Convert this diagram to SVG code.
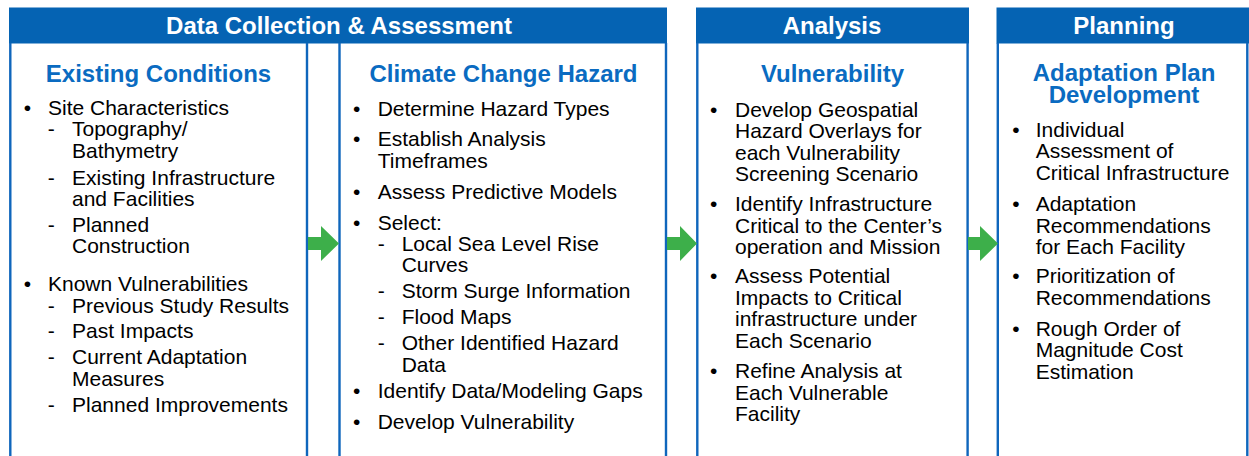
<svg xmlns="http://www.w3.org/2000/svg" width="1249" height="456" viewBox="0 0 1249 456">
<style>
  .hdr { fill: #0563B3; }
  .hdrt { font-family: "Liberation Sans", Arial, sans-serif; font-size: 24px; font-weight: bold; fill: #FFFFFF; text-anchor: middle; }
  .ttl { font-family: "Liberation Sans", Arial, sans-serif; font-size: 24px; font-weight: bold; fill: #0A6BC1; text-anchor: middle; }
  .edge { stroke: #0F66BC; stroke-width: 2.4; fill: none; }
  .t { font-family: "Liberation Sans", Arial, sans-serif; font-size: 21px; fill: #000000; }
  .m { font-family: "Liberation Sans", Arial, sans-serif; font-size: 21px; fill: #000000; text-anchor: middle; }
  .arrow { fill: #3DAF4A; }
</style>
<rect width="1249" height="456" fill="#FFFFFF"/>

<g id="stage-data-collection">
  <rect class="hdr" x="9" y="7.5" width="658" height="36"/>
  <text class="hdrt" x="339" y="34.3">Data Collection &amp; Assessment</text>
</g>

<g id="existing-conditions">
  <path class="edge" d="M10.3 43 V460 M307 43 V460"/>
  <text class="ttl" x="158.5" y="82">Existing Conditions</text>
  <text class="m" x="27.5" y="115">•</text><text class="t" x="48" y="115">Site Characteristics</text>
  <text class="m" x="51.3" y="136">-</text><text class="t" x="72" y="136">Topography/</text>
  <text class="t" x="72" y="158">Bathymetry</text>
  <text class="m" x="51.3" y="185">-</text><text class="t" x="72" y="185">Existing Infrastructure</text>
  <text class="t" x="72" y="206">and Facilities</text>
  <text class="m" x="51.3" y="232">-</text><text class="t" x="72" y="232">Planned</text>
  <text class="t" x="72" y="253">Construction</text>
  <text class="m" x="27.5" y="291">•</text><text class="t" x="48" y="291">Known Vulnerabilities</text>
  <text class="m" x="51.3" y="313">-</text><text class="t" x="72" y="313">Previous Study Results</text>
  <text class="m" x="51.3" y="338">-</text><text class="t" x="72" y="338">Past Impacts</text>
  <text class="m" x="51.3" y="364">-</text><text class="t" x="72" y="364">Current Adaptation</text>
  <text class="t" x="72" y="386">Measures</text>
  <text class="m" x="51.3" y="412">-</text><text class="t" x="72" y="412">Planned Improvements</text>
</g>

<g id="climate-change-hazard">
  <path class="edge" d="M339.5 43 V460 M666 43 V460"/>
  <text class="ttl" x="503.5" y="82">Climate Change Hazard</text>
  <text class="m" x="356.7" y="115.5">•</text><text class="t" x="377.7" y="115.5">Determine Hazard Types</text>
  <text class="m" x="356.7" y="146">•</text><text class="t" x="377.7" y="146">Establish Analysis</text>
  <text class="t" x="377.7" y="167.5">Timeframes</text>
  <text class="m" x="356.7" y="199">•</text><text class="t" x="377.7" y="199">Assess Predictive Models</text>
  <text class="m" x="356.7" y="229.5">•</text><text class="t" x="377.7" y="229.5">Select:</text>
  <text class="m" x="381.3" y="251">-</text><text class="t" x="401.7" y="251">Local Sea Level Rise</text>
  <text class="t" x="401.7" y="272">Curves</text>
  <text class="m" x="381.3" y="298">-</text><text class="t" x="401.7" y="298">Storm Surge Information</text>
  <text class="m" x="381.3" y="323.5">-</text><text class="t" x="401.7" y="323.5">Flood Maps</text>
  <text class="m" x="381.3" y="350">-</text><text class="t" x="401.7" y="350">Other Identified Hazard</text>
  <text class="t" x="401.7" y="372">Data</text>
  <text class="m" x="356.7" y="397.5">•</text><text class="t" x="377.7" y="397.5">Identify Data/Modeling Gaps</text>
  <text class="m" x="356.7" y="428.5">•</text><text class="t" x="377.7" y="428.5">Develop Vulnerability</text>
</g>

<g id="stage-analysis">
  <rect class="hdr" x="696" y="7.5" width="273" height="36"/>
  <text class="hdrt" x="832" y="34.3">Analysis</text>
  <path class="edge" d="M697.3 43 V460 M967.6 43 V460"/>
  <text class="ttl" x="832.5" y="82">Vulnerability</text>
  <text class="m" x="713.8" y="116.5">•</text><text class="t" x="735" y="116.5">Develop Geospatial</text>
  <text class="t" x="735" y="138">Hazard Overlays for</text>
  <text class="t" x="735" y="159.5">each Vulnerability</text>
  <text class="t" x="735" y="181">Screening Scenario</text>
  <text class="m" x="713.8" y="211">•</text><text class="t" x="735" y="211">Identify Infrastructure</text>
  <text class="t" x="735" y="232.5">Critical to the Center’s</text>
  <text class="t" x="735" y="254">operation and Mission</text>
  <text class="m" x="713.8" y="283">•</text><text class="t" x="735" y="283">Assess Potential</text>
  <text class="t" x="735" y="305">Impacts to Critical</text>
  <text class="t" x="735" y="326">infrastructure under</text>
  <text class="t" x="735" y="348">Each Scenario</text>
  <text class="m" x="713.8" y="378">•</text><text class="t" x="735" y="378">Refine Analysis at</text>
  <text class="t" x="735" y="400">Each Vulnerable</text>
  <text class="t" x="735" y="421">Facility</text>
</g>

<g id="stage-planning">
  <rect class="hdr" x="996.5" y="7.5" width="252.5" height="36"/>
  <text class="hdrt" x="1124" y="34.3">Planning</text>
  <path class="edge" d="M997.8 43 V460 M1247.3 43 V460"/>
  <text class="ttl"><tspan x="1124" y="81">Adaptation Plan</tspan><tspan x="1124" y="102.5">Development</tspan></text>
  <text class="m" x="1016" y="136.5">•</text><text class="t" x="1035.7" y="136.5">Individual</text>
  <text class="t" x="1035.7" y="158">Assessment of</text>
  <text class="t" x="1035.7" y="180">Critical Infrastructure</text>
  <text class="m" x="1016" y="211">•</text><text class="t" x="1035.7" y="211">Adaptation</text>
  <text class="t" x="1035.7" y="232.5">Recommendations</text>
  <text class="t" x="1035.7" y="254">for Each Facility</text>
  <text class="m" x="1016" y="283">•</text><text class="t" x="1035.7" y="283">Prioritization of</text>
  <text class="t" x="1035.7" y="305">Recommendations</text>
  <text class="m" x="1016" y="336">•</text><text class="t" x="1035.7" y="336">Rough Order of</text>
  <text class="t" x="1035.7" y="357">Magnitude Cost</text>
  <text class="t" x="1035.7" y="379">Estimation</text>
</g>

<g id="connectors">
  <polygon class="arrow" points="308,237 321,237 321,226 339,243.5 321,261 321,250 308,250"/>
  <polygon class="arrow" points="667,237 680,237 680,226 697,243.5 680,261 680,250 667,250"/>
  <polygon class="arrow" points="968,237 980,237 980,226 998,243.5 980,261 980,250 968,250"/>
</g>
</svg>
